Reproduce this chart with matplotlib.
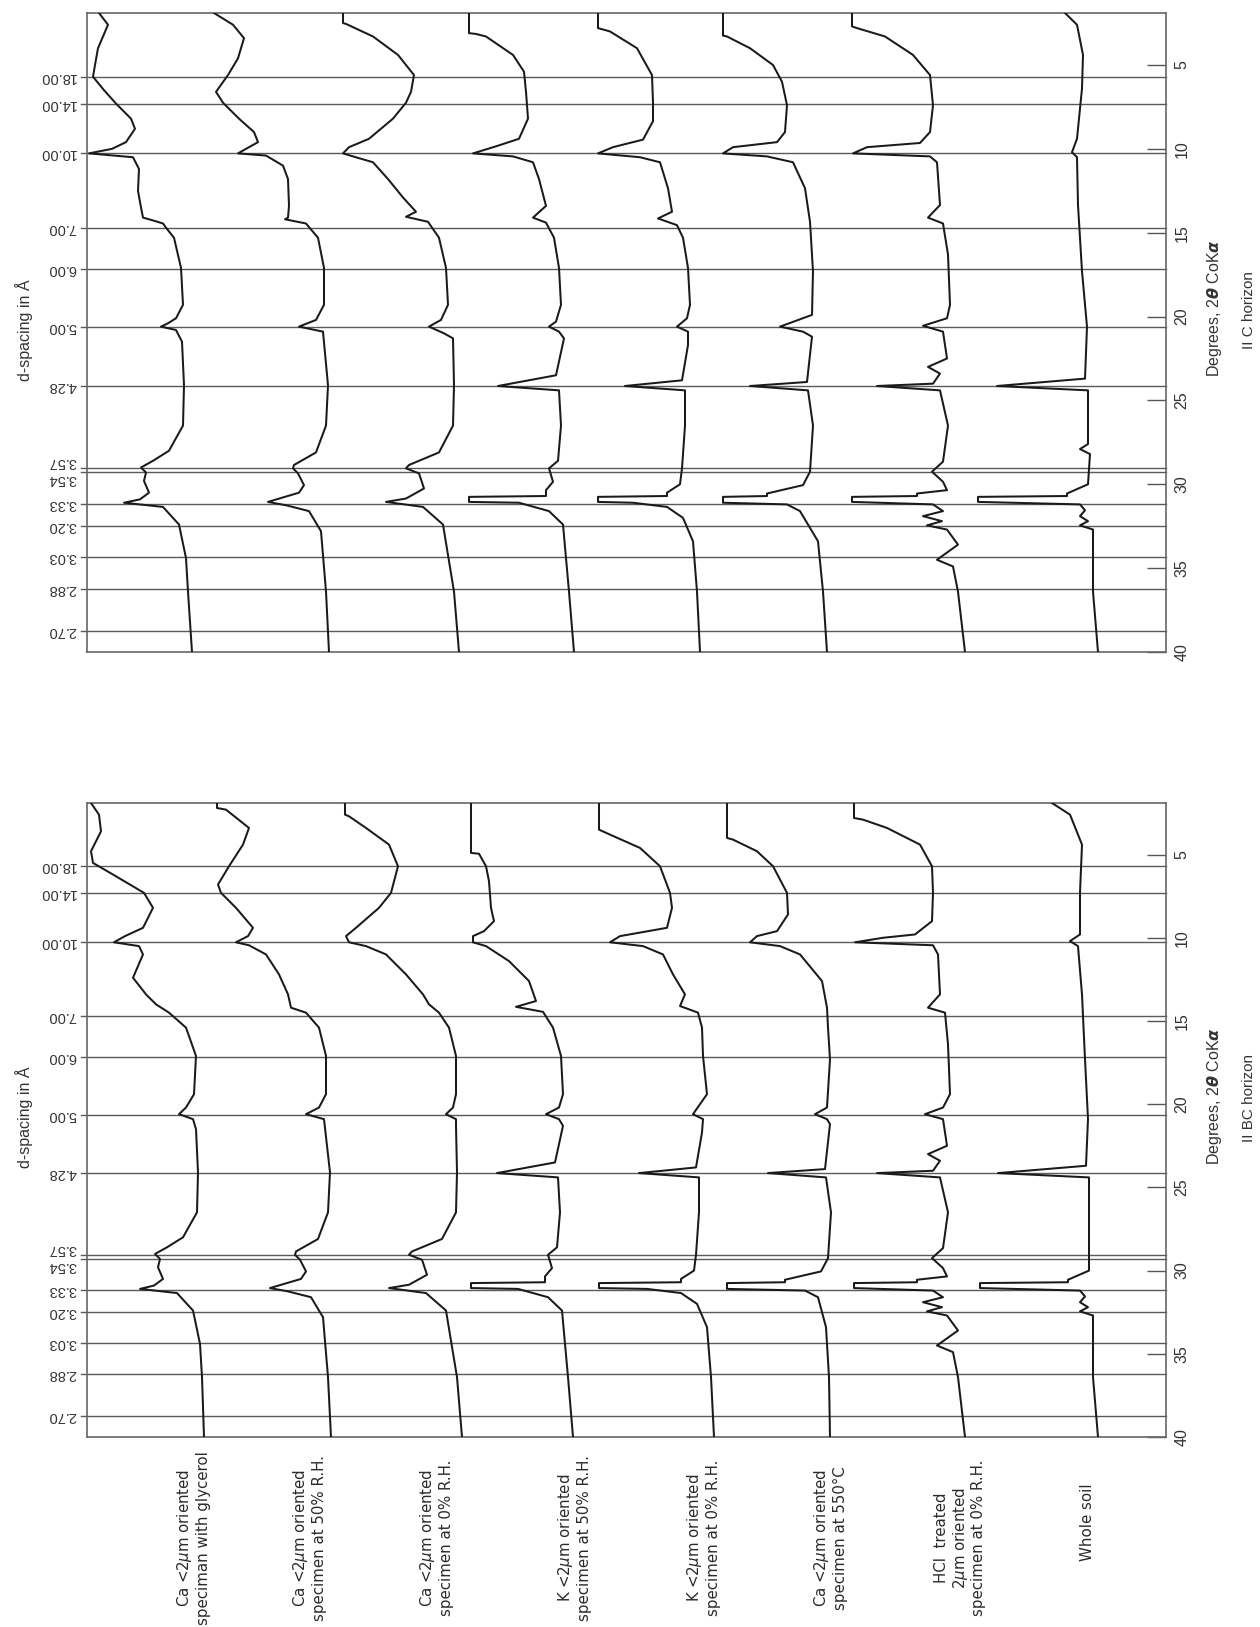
import numpy as np
import matplotlib
matplotlib.use("Agg")
import matplotlib.pyplot as plt

plt.rcParams['font.family'] = ['Liberation Sans Narrow', 'Liberation Sans', 'DejaVu Sans']
plt.rcParams['mathtext.fontset'] = 'dejavusans'

# ---- data -------------------------------------------------------------
# d-spacings (Angstrom) marked by horizontal reference lines
D_SPACINGS = [18.00, 14.00, 10.00, 7.00, 6.00, 5.00, 4.28, 3.57, 3.54, 3.33, 3.20, 3.03, 2.88, 2.70]
COKA = 1.7902  # CoK-alpha wavelength, Angstrom
DEG_TICKS = [5, 10, 15, 20, 25, 30, 35, 40]

LABELS = [
    "Ca <2$\\mu$m oriented\nspeciman with glycerol",
    "Ca <2$\\mu$m oriented\nspecimen at 50% R.H.",
    "Ca <2$\\mu$m oriented\nspecimen at 0% R.H.",
    "K <2$\\mu$m oriented\nspecimen at 50% R.H.",
    "K <2$\\mu$m oriented\nspecimen at 0% R.H.",
    "Ca <2$\\mu$m oriented\nspecimen at 550°C",
    "HCl  treated\n2$\\mu$m oriented\nspecimen at 0% R.H.",
    "Whole soil",
]

# traces: (2-theta, chart position) pairs
# ---- II C horizon ----
C_GLY = [(1.9, 99), (2.6, 108), (4.0, 98), (5.0, 95), (5.7, 93), (6.5, 104), (7.3, 116), (8.2, 131), (8.8, 135),
         (9.6, 126), (10.0, 112), (10.27, 89), (10.5, 133), (11.2, 139), (12.5, 138), (13.5, 141), (14.1, 143),
         (14.25, 152), (14.45, 163), (14.7, 166), (15.3, 174), (17.1, 181), (19.3, 183), (20.1, 176), (20.4, 168),
         (20.6, 161), (20.8, 176), (21.5, 182), (24.1, 184), (26.5, 183), (28.0, 169), (28.6, 153), (29.0, 141),
         (29.3, 146), (29.8, 144), (30.5, 149), (30.9, 140), (31.1, 124), (31.35, 163), (32.4, 179), (34.4, 186),
         (36.4, 188), (40.0, 192)]
C_RH50 = [(1.9, 214), (2.6, 233), (3.4, 244), (4.6, 238), (5.6, 228), (6.6, 216), (7.25, 223), (8.2, 239), (9.0, 254),
          (9.6, 258), (9.9, 249), (10.27, 238), (10.4, 266), (11.0, 283), (11.8, 288), (13.4, 289), (14.1, 288),
          (14.2, 285), (14.45, 306), (15.3, 318), (17.1, 324), (19.3, 324), (20.2, 316), (20.6, 299), (20.9, 323),
          (24.1, 328), (26.5, 326), (28.1, 316), (28.85, 294), (29.05, 293), (29.35, 298), (30.05, 304), (30.5, 299),
          (31.05, 268), (31.25, 286), (31.6, 309), (32.8, 321), (36.4, 326), (40.0, 329)]
C_RH0 = [(1.9, 343), (2.5, 343), (2.55, 346), (3.3, 373), (4.4, 398), (5.6, 414), (6.6, 411), (7.25, 406), (8.2, 393),
         (9.4, 369), (9.9, 349), (10.27, 343), (10.45, 353), (10.8, 373), (11.8, 388), (12.9, 403), (13.75, 416),
         (14.05, 406), (14.35, 428), (15.3, 439), (17.1, 446), (19.3, 448), (20.2, 441), (20.6, 429), (21.0, 444),
         (21.3, 453), (24.1, 454), (26.5, 453), (28.1, 439), (28.85, 409), (29.05, 406), (29.35, 419), (30.25, 424),
         (30.85, 406), (31.05, 386), (31.35, 423), (32.4, 443), (36.4, 454), (40.0, 459)]
C_K50 = [(1.9, 469), (3.1, 469), (3.15, 476), (3.3, 486), (4.4, 513), (5.4, 524), (6.6, 526), (8.2, 528), (9.4, 519),
         (9.85, 496), (10.27, 473), (10.45, 513), (10.8, 533), (11.8, 539), (13.4, 546), (14.1, 533), (14.4, 546),
         (15.3, 554), (17.1, 559), (19.3, 561), (20.3, 556), (20.6, 549), (20.9, 559), (21.3, 564), (23.5, 556),
         (24.14, 498), (24.4, 559), (26.5, 561), (28.6, 558), (29.05, 549), (29.85, 553), (30.35, 546), (30.7, 546),
         (30.75, 469), (31.05, 469), (31.1, 519), (31.6, 549), (32.4, 563), (36.4, 569), (40.0, 574)]
C_K0 = [(1.9, 598), (2.8, 598), (3.0, 610), (4.0, 637), (5.6, 652), (7.25, 653), (8.35, 653), (9.45, 643), (9.9, 613),
        (10.27, 598), (10.5, 640), (10.8, 660), (12.35, 668), (13.75, 672), (14.15, 658), (14.55, 677), (15.3, 683),
        (17.1, 688), (19.3, 690), (20.1, 687), (20.6, 677), (20.9, 688), (21.7, 688), (23.8, 682), (24.14, 625),
        (24.4, 685), (26.5, 685), (29.05, 682), (30.0, 680), (30.5, 667), (30.7, 667), (30.75, 598), (31.05, 598),
        (31.1, 633), (31.35, 667), (32.0, 683), (33.4, 693), (36.4, 697), (40.0, 700)]
C_550 = [(1.9, 723), (3.25, 723), (3.3, 727), (4.0, 750), (5.0, 773), (6.0, 782), (7.4, 787), (9.0, 785), (9.6, 777),
         (9.9, 733), (10.27, 723), (10.45, 767), (10.8, 793), (12.35, 805), (14.35, 810), (17.3, 813), (19.9, 812),
         (20.6, 780), (20.9, 803), (21.2, 812), (23.9, 807), (24.14, 750), (24.4, 808), (26.5, 813), (29.25, 810),
         (30.05, 803), (30.55, 767), (30.7, 767), (30.75, 723), (31.1, 723), (31.2, 787), (31.6, 800), (33.4, 818),
         (36.4, 823), (40.0, 827)]
C_HCL = [(1.9, 852), (2.7, 852), (2.8, 857), (3.3, 885), (4.4, 913), (5.6, 930), (7.4, 933), (9.0, 930), (9.65, 920),
         (9.9, 867), (10.27, 853), (10.45, 930), (10.8, 937), (13.35, 940), (14.1, 928), (14.45, 943), (16.3, 948),
         (19.3, 950), (20.1, 947), (20.55, 923), (20.9, 943), (22.5, 947), (23.0, 928), (23.4, 940), (24.0, 933),
         (24.14, 877), (24.4, 940), (26.5, 948), (28.65, 943), (29.25, 932), (29.85, 943), (30.35, 947), (30.55, 917),
         (30.7, 917), (30.75, 852), (31.05, 852), (31.2, 933), (31.6, 943), (31.9, 923), (32.2, 942), (32.45, 927),
         (32.7, 947), (33.6, 958), (34.5, 937), (34.9, 953), (36.4, 958), (40.0, 965)]
C_SOIL = [(1.9, 1065), (2.6, 1077), (4.4, 1083), (6.4, 1082), (9.4, 1077), (10.2, 1072), (10.5, 1077), (13.35, 1078),
          (17.3, 1082), (20.6, 1087), (23.7, 1085), (24.14, 997), (24.4, 1088), (27.6, 1088), (27.9, 1080), (28.2, 1090),
          (30.0, 1088), (30.55, 1067), (30.7, 1067), (30.75, 978), (31.05, 978), (31.2, 1080), (31.55, 1085),
          (31.9, 1080), (32.2, 1088), (32.45, 1080), (32.7, 1093), (36.4, 1093), (40.0, 1098)]

# ---- II BC horizon ----
BC_GLY = [(1.9, 91), (2.6, 99), (3.6, 101), (4.8, 91), (5.5, 93), (6.2, 113), (7.3, 144), (8.2, 153), (9.4, 143),
          (9.9, 125), (10.27, 114), (10.5, 139), (11.0, 143), (12.4, 133), (13.4, 146), (14.0, 156), (14.5, 169),
          (15.4, 186), (17.1, 196), (19.4, 194), (20.2, 186), (20.6, 179), (20.9, 193), (21.5, 196), (24.1, 198),
          (26.5, 197), (28.0, 183), (28.6, 167), (29.0, 155), (29.3, 160), (29.8, 158), (30.5, 163), (30.9, 154),
          (31.1, 140), (31.35, 177), (32.4, 193), (34.4, 200), (36.4, 202), (40.0, 204)]
BC_RH50 = [(1.9, 217), (2.2, 217), (2.3, 226), (3.4, 249), (4.4, 243), (5.7, 229), (6.8, 218), (7.3, 221), (8.2, 236),
           (9.4, 253), (9.9, 248), (10.27, 236), (10.45, 249), (11.0, 266), (12.2, 279), (13.4, 288), (14.2, 291),
           (14.5, 306), (15.4, 319), (17.1, 326), (19.4, 326), (20.2, 319), (20.6, 306), (20.9, 324), (24.1, 330),
           (26.5, 328), (28.1, 318), (28.85, 296), (29.05, 295), (29.35, 300), (30.05, 306), (30.5, 301), (31.05, 270),
           (31.25, 288), (31.6, 311), (32.8, 323), (36.4, 328), (40.0, 331)]
BC_RH0 = [(1.9, 345), (2.6, 345), (2.7, 349), (3.4, 366), (4.4, 389), (5.7, 398), (7.3, 391), (8.2, 379), (9.4, 356),
          (9.9, 346), (10.27, 349), (10.5, 366), (11.0, 386), (12.2, 406), (13.4, 423), (14.0, 429), (14.5, 439),
          (15.4, 449), (17.1, 456), (19.4, 456), (20.2, 453), (20.6, 446), (20.9, 456), (21.3, 456), (24.1, 457),
          (26.5, 456), (28.1, 442), (28.85, 412), (29.05, 409), (29.35, 422), (30.25, 427), (30.85, 409), (31.05, 389),
          (31.35, 426), (32.4, 446), (36.4, 457), (40.0, 462)]
BC_K50 = [(1.9, 471), (4.9, 471), (4.95, 479), (5.7, 486), (6.6, 489), (8.2, 491), (9.0, 494), (9.6, 484), (9.9, 473),
          (10.27, 473), (10.5, 486), (11.4, 509), (12.6, 529), (13.8, 536), (14.15, 516), (14.45, 543), (15.4, 553),
          (17.1, 561), (19.4, 563), (20.2, 559), (20.6, 546), (20.9, 559), (21.3, 563), (23.5, 555), (24.14, 497),
          (24.4, 558), (26.5, 560), (28.6, 557), (29.05, 548), (29.85, 552), (30.35, 545), (30.7, 545), (30.75, 471),
          (31.05, 471), (31.1, 518), (31.6, 548), (32.4, 562), (36.4, 568), (40.0, 573)]
BC_K0 = [(1.9, 599), (3.5, 599), (3.8, 610), (4.6, 640), (5.7, 660), (7.3, 670), (8.2, 672), (9.4, 667), (9.9, 620),
         (10.27, 610), (10.5, 643), (11.0, 663), (12.2, 673), (13.4, 685), (14.1, 680), (14.5, 698), (15.4, 702),
         (17.1, 703), (19.4, 707), (20.6, 693), (20.9, 703), (21.7, 702), (23.8, 696), (24.14, 639), (24.4, 699),
         (26.5, 699), (29.05, 696), (30.0, 694), (30.5, 681), (30.7, 681), (30.75, 599), (31.05, 599), (31.1, 647),
         (31.35, 681), (32.0, 697), (33.4, 707), (36.4, 711), (40.0, 714)]
BC_550 = [(1.9, 727), (4.0, 727), (4.1, 733), (4.8, 757), (5.7, 773), (7.3, 787), (8.6, 788), (9.6, 777), (9.9, 757),
          (10.27, 750), (10.5, 780), (11.0, 800), (12.6, 822), (14.2, 827), (15.4, 828), (17.3, 830), (20.2, 827),
          (20.6, 815), (20.9, 827), (21.2, 830), (23.9, 825), (24.14, 768), (24.4, 826), (26.5, 831), (29.25, 828),
          (30.05, 821), (30.55, 785), (30.7, 785), (30.75, 727), (31.1, 727), (31.2, 805), (31.6, 818), (33.4, 826),
          (36.4, 829), (40.0, 830)]
BC_HCL = [(1.9, 854), (2.8, 854), (2.9, 863), (3.4, 887), (4.4, 920), (5.7, 932), (7.3, 933), (9.0, 932), (9.8, 915),
          (10.0, 883), (10.27, 855), (10.45, 933), (11.0, 938), (13.4, 940), (14.2, 928), (14.5, 945), (16.4, 948),
          (19.4, 950), (20.2, 943), (20.6, 925), (20.9, 943), (22.5, 947), (23.0, 928), (23.4, 940), (24.0, 933),
          (24.14, 877), (24.4, 940), (26.5, 948), (28.65, 943), (29.25, 932), (29.85, 943), (30.35, 947), (30.55, 917),
          (30.7, 917), (30.75, 854), (31.05, 854), (31.2, 933), (31.6, 943), (31.9, 923), (32.2, 942), (32.45, 927),
          (32.7, 947), (33.6, 958), (34.5, 937), (34.9, 953), (36.4, 958), (40.0, 965)]
BC_SOIL = [(1.9, 1052), (2.6, 1070), (4.4, 1082), (7.3, 1080), (9.8, 1080), (10.2, 1070), (10.5, 1078), (13.4, 1082),
           (17.3, 1085), (20.9, 1088), (23.7, 1086), (24.14, 998), (24.4, 1089), (30.0, 1089), (30.55, 1068),
           (30.7, 1068), (30.75, 980), (31.05, 980), (31.2, 1080), (31.55, 1085), (31.9, 1080), (32.2, 1088),
           (32.45, 1080), (32.7, 1093), (36.4, 1093), (40.0, 1098)]

TRACES_C = [C_GLY, C_RH50, C_RH0, C_K50, C_K0, C_550, C_HCL, C_SOIL]
TRACES_BC = [BC_GLY, BC_RH50, BC_RH0, BC_K50, BC_K0, BC_550, BC_HCL, BC_SOIL]

# ---- layout -------------------------------------------------------------
W, H = 1260, 1627
LINE_C = "#1a1a1a"
GRID_C = "#5a5a5a"
TEXT_C = "#333333"
# the 3.57 / 3.54 labels sit just above / below their lines so they don't collide
LABEL_NUDGE = {3.57: 6, 3.54: -7}


def fx(px):
    return px / W


def fy(py):
    return 1 - py / H


def bragg(d):
    return 2 * np.degrees(np.arcsin(COKA / (2 * d)))


def draw_panel(ax, traces, horizon):
    ax.set_xlim(87, 1166)
    ax.set_ylim(40, 1.9)
    for s in ax.spines.values():
        s.set_color("#666666")
        s.set_linewidth(1.2)
    ax.set_xticks([])
    ax.yaxis.tick_right()
    ax.set_yticks(DEG_TICKS)
    ax.set_yticklabels([str(t) for t in DEG_TICKS], rotation=90, va="center", fontsize=11.5)
    ax.tick_params(axis="y", direction="in", length=14, width=1.0, color="#555555", pad=6, labelcolor=TEXT_C)

    ytr = ax.get_yaxis_transform()
    for d in D_SPACINGS:
        tt = bragg(d)
        ax.plot([-0.006, 1], [tt, tt], transform=ytr, color=GRID_C, lw=1.0, clip_on=False, zorder=1)
        ax.annotate(f"{d:.2f}", xy=(-0.01, tt), xycoords=ytr,
                    xytext=(0, LABEL_NUDGE.get(d, 0)), textcoords="offset pixels",
                    rotation=180, ha="right", va="center", fontsize=10.5,
                    family=["Liberation Sans", "DejaVu Sans"], color=TEXT_C)

    for tr in traces:
        arr = np.array(tr)
        ax.plot(arr[:, 1], arr[:, 0], color=LINE_C, lw=1.45, zorder=3)

    ax.text(-0.058, 20.8, "d-spacing in Å", transform=ytr, rotation=90, ha="center", va="center",
            fontsize=11.5, color=TEXT_C)
    ax.text(1.0445, 19.5, r"Degrees, 2$\boldsymbol{\theta}$ CoK$\boldsymbol{\alpha}$", transform=ytr,
            rotation=90, ha="center", va="center", fontsize=11.5, color=TEXT_C)
    ax.text(1.077, 19.6, horizon, transform=ytr, rotation=90, ha="center", va="center",
            fontsize=11, color=TEXT_C)


fig = plt.figure(figsize=(W / 100, H / 100), dpi=100)
fig.patch.set_facecolor("white")

ax_c = fig.add_axes([fx(87), fy(652), fx(1166) - fx(87), fy(13) - fy(652)])
ax_bc = fig.add_axes([fx(87), fy(1437), fx(1166) - fx(87), fy(803) - fy(1437)])

draw_panel(ax_c, TRACES_C, "II C horizon")
draw_panel(ax_bc, TRACES_BC, "II BC horizon")

label_x = [193, 309, 436, 574, 703, 830, 960, 1087]
label_y = [1538, 1538, 1538, 1538, 1538, 1538, 1538, 1522]
for lab, lx, ly in zip(LABELS, label_x, label_y):
    fig.text(fx(lx), fy(ly), lab, rotation=90, ha="center", va="center", multialignment="center",
             fontsize=10.8, family=["DejaVu Sans"], color="#2a2a2a", linespacing=1.12)

fig.savefig("out.png", dpi=100, facecolor="white")
